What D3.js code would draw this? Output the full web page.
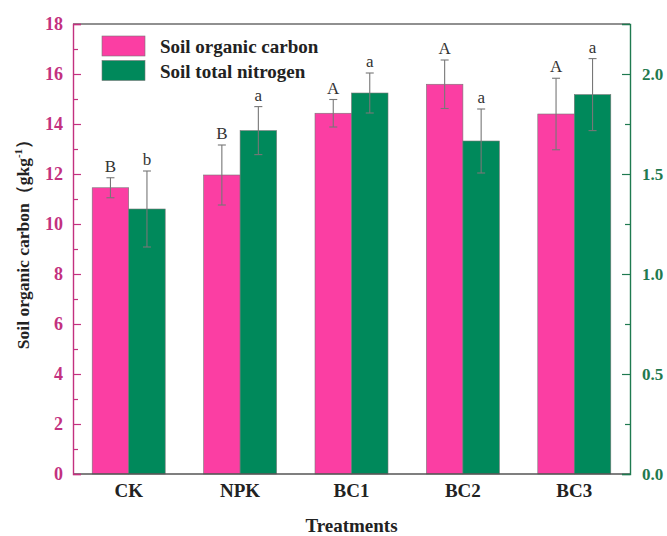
<!DOCTYPE html>
<html><head><meta charset="utf-8">
<script src="https://cdn.jsdelivr.net/npm/d3@7"></script>
<style>body{margin:0;background:#fff}svg{display:block}text{font-family:"Liberation Serif","Times New Roman",serif}</style>
</head><body>
<svg id="c" width="667" height="536"></svg>
<script>
const categories = ["CK","NPK","BC1","BC2","BC3"];
const socValues = [11.45, 11.96, 14.43, 15.59, 14.40];
const socErrors = [0.40, 1.20, 0.55, 0.97, 1.43];
const socLetters = ["B","B","A","A","A"];
const stnValues = [1.325, 1.717, 1.905, 1.665, 1.897];
const stnErrors = [0.19, 0.12, 0.10, 0.16, 0.18];
const stnLetters = ["b","a","a","a","a"];
const leftTicks = [0,2,4,6,8,10,12,14,16,18];
const rightTicks = [0,0.5,1.0,1.5,2.0];

const pink = "#FB3EA3", green = "#00895B";
const pinkText = "#C3317F", greenText = "#1F7A50";
const svg = d3.select("#c");
const L = 73, R = 630, T = 24, B = 474;
const x = d3.scaleBand().domain(categories).range([L, R]).padding(0);
const yL = d3.scaleLinear().domain([0, 18]).range([B, T]);
const yR = d3.scaleLinear().domain([0, 2.25]).range([B, T]);
const bw = 36.5;

// top frame
svg.append("line").attr("x1", L).attr("x2", R).attr("y1", T).attr("y2", T).attr("stroke", "#222").attr("stroke-width", 1.2);

// bars
const series = [
  {vals: socValues, errs: socErrors, letters: socLetters, y: yL, color: pink, off: -bw},
  {vals: stnValues, errs: stnErrors, letters: stnLetters, y: yR, color: green, off: 0}
];
series.forEach(s => {
  const g = svg.append("g");
  categories.forEach((c, i) => {
    const cx = x(c) + x.bandwidth() / 2 + s.off;
    g.append("rect").attr("x", cx).attr("width", bw)
      .attr("y", s.y(s.vals[i])).attr("height", B - s.y(s.vals[i]))
      .attr("fill", s.color).attr("stroke", "#777").attr("stroke-width", 0.6);
  });
});
// error bars and letters
series.forEach(s => {
  categories.forEach((c, i) => {
    const mx = x(c) + x.bandwidth() / 2 + s.off + bw / 2;
    const top = s.y(s.vals[i] + s.errs[i]), bot = s.y(s.vals[i] - s.errs[i]);
    const eg = svg.append("g").attr("stroke", "#777").attr("stroke-width", 1.1);
    eg.append("line").attr("x1", mx).attr("x2", mx).attr("y1", top).attr("y2", bot);
    eg.append("line").attr("x1", mx - 4).attr("x2", mx + 4).attr("y1", top).attr("y2", top);
    eg.append("line").attr("x1", mx - 4).attr("x2", mx + 4).attr("y1", bot).attr("y2", bot);
    svg.append("text").attr("x", mx).attr("y", top - 6).attr("text-anchor", "middle")
      .attr("font-size", 17).attr("fill", "#333").text(s.letters[i]);
  });
});

// bottom axis
svg.append("line").attr("x1", L).attr("x2", R).attr("y1", B).attr("y2", B).attr("stroke", "#555").attr("stroke-width", 1.4);
categories.forEach(c => {
  svg.append("text").attr("x", x(c) + x.bandwidth() / 2).attr("y", 497).attr("text-anchor", "middle")
    .attr("font-size", 19).attr("font-weight", "bold").attr("fill", "#222").text(c);
});

// left axis
const la = svg.append("g").attr("transform", `translate(${L},0)`)
  .call(d3.axisLeft(yL).tickValues(leftTicks).tickSize(-8).tickPadding(10).tickFormat(d3.format("d")));
la.select(".domain").attr("stroke", pinkText).attr("stroke-width", 1.4);
la.selectAll(".tick line").attr("stroke", pinkText).attr("stroke-width", 1.2);
la.selectAll(".tick text").attr("fill", pinkText).attr("font-size", 18).attr("font-weight", "bold")
  .attr("font-family", "Liberation Serif, serif");
const lm = svg.append("g").attr("transform", `translate(${L},0)`)
  .call(d3.axisLeft(yL).tickValues(d3.range(1, 18, 2)).tickSize(-5).tickFormat(""));
lm.select(".domain").remove();
lm.selectAll(".tick line").attr("stroke", pinkText).attr("stroke-width", 1.2);

// right axis
const ra = svg.append("g").attr("transform", `translate(${R},0)`)
  .call(d3.axisRight(yR).tickValues(rightTicks).tickSize(-8).tickPadding(12).tickFormat(d3.format(".1f")));
ra.select(".domain").attr("stroke", greenText).attr("stroke-width", 1.4);
ra.selectAll(".tick line").attr("stroke", greenText).attr("stroke-width", 1.2);
ra.selectAll(".tick text").attr("fill", greenText).attr("font-size", 17).attr("font-weight", "bold")
  .attr("font-family", "Liberation Serif, serif");
const rm = svg.append("g").attr("transform", `translate(${R},0)`)
  .call(d3.axisRight(yR).tickValues([0.25, 0.75, 1.25, 1.75]).tickSize(-5).tickFormat(""));
rm.select(".domain").remove();
rm.selectAll(".tick line").attr("stroke", greenText).attr("stroke-width", 1.2);

// axis titles
svg.append("text").attr("transform", "translate(29,240) rotate(-90)").attr("text-anchor", "middle")
  .attr("font-size", 17.5).attr("font-weight", "bold").attr("fill", "#222")
  .html('Soil organic carbon（gkg<tspan dy="-7" font-size="11">-1</tspan><tspan dy="7">）</tspan>');
svg.append("text").attr("x", (L + R) / 2).attr("y", 532).attr("text-anchor", "middle")
  .attr("font-size", 19).attr("font-weight", "bold").attr("fill", "#222").text("Treatments");

// legend
const legend = [{name: "Soil organic carbon", color: pink}, {name: "Soil total nitrogen", color: green}];
legend.forEach((d, i) => {
  svg.append("rect").attr("x", 102).attr("y", 36 + i * 24.5).attr("width", 43).attr("height", 20)
    .attr("fill", d.color).attr("stroke", "#777").attr("stroke-width", 0.6);
  svg.append("text").attr("x", 160).attr("y", 53 + i * 24.5).attr("font-size", 19).attr("font-weight", "bold")
    .attr("fill", "#222").text(d.name);
});
</script>
</body></html>
